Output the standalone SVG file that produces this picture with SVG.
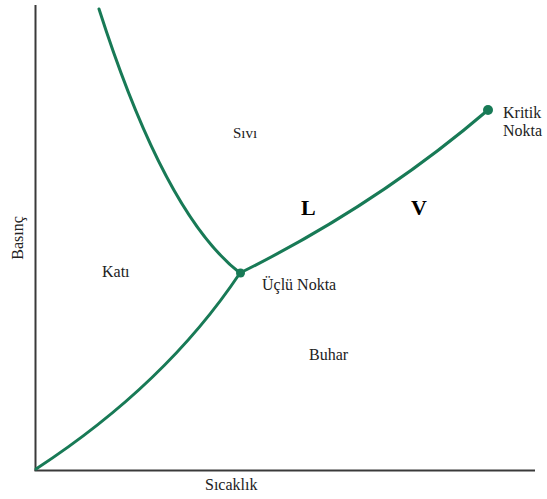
<svg xmlns="http://www.w3.org/2000/svg" width="547" height="499" viewBox="0 0 547 499">
<style>
.ax{stroke:#3a3a3a;stroke-width:2;fill:none}
.cv{stroke:#187a56;stroke-width:3;fill:none;stroke-linecap:round}
.dot{fill:#187a56}
.t{font-family:"Liberation Serif","Times New Roman",serif;font-size:16px;fill:#222}
.b{font-family:"Liberation Serif","Times New Roman",serif;font-size:22px;font-weight:bold;fill:#000}
</style>
<rect width="547" height="499" fill="#fff"/>
<g id="axes">
<line class="ax" x1="35.5" y1="5" x2="35.5" y2="471"/>
<line class="ax" x1="34.5" y1="470.5" x2="535" y2="470.5"/>
</g>
<g id="connectors">
<path class="cv" d="M99,9 Q165,215 240,273"/>
<path class="cv" d="M36,469 Q166,384 240,273"/>
<path class="cv" d="M240,273 Q377,205 488,110"/>
</g>
<g id="triple-point">
<circle class="dot" cx="240.5" cy="273" r="4.5"/>
<text class="t" x="262" y="290">Üçlü Nokta</text>
</g>
<g id="critical-point">
<circle class="dot" cx="488" cy="110" r="5"/>
<text class="t" x="503" y="118">Kritik</text>
<text class="t" x="503" y="136">Nokta</text>
</g>
<g id="labels">
<text class="t" x="233" y="138" style="font-size:15px">Sıvı</text>
<text class="t" x="102" y="277">Katı</text>
<text class="t" x="309" y="360">Buhar</text>
<text class="t" x="205" y="490">Sıcaklık</text>
<text class="t" transform="translate(23,238) rotate(-90)" text-anchor="middle">Basınç</text>
<text class="b" x="301" y="215">L</text>
<text class="b" x="411" y="215">V</text>
</g>
</svg>
